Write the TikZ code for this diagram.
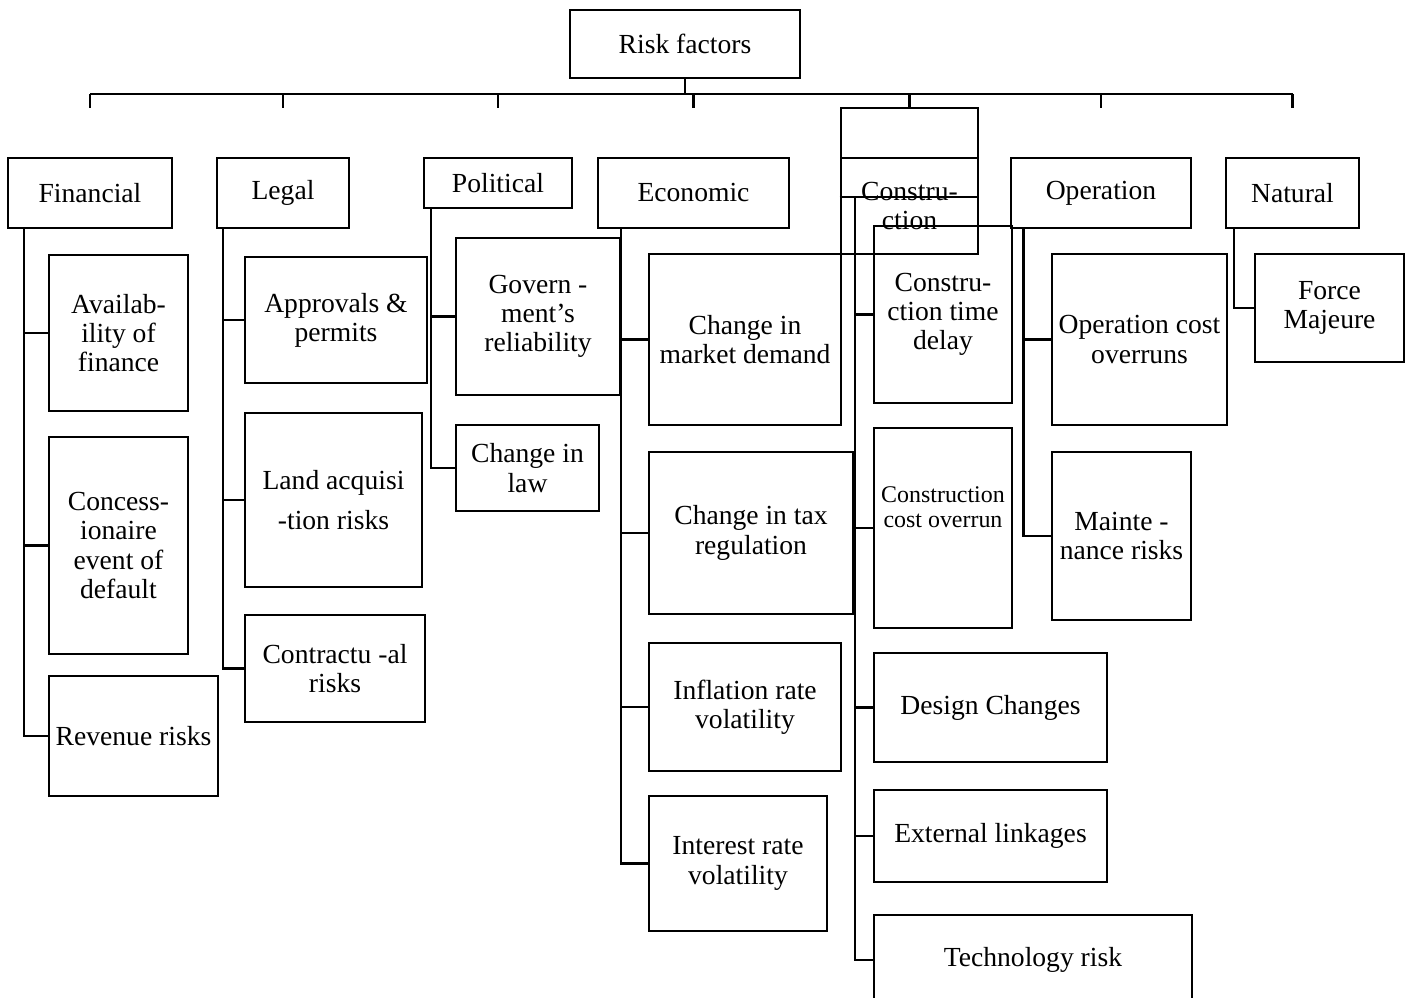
\documentclass[tikz,border=0pt]{standalone}
\usepackage{fontspec}
\setmainfont{Liberation Serif}

\begin{document}
\begin{tikzpicture}[x=0.01cm,y=-0.01cm,line width=0.7pt]
	\tikzstyle{box}=[draw,rectangle,inner sep=0pt,align=center,font=\fontsize{7.85}{8.3}\selectfont]
	\tikzset{boxsize/.style 2 args={minimum width=#1cm,minimum height=#2cm}}
	\useasboundingbox (0,0) rectangle (1411,998);

	% top level
	\node[box,boxsize={2.30}{0.68}] (root) at (685,44) {Risk factors};

	\node[box,boxsize={1.64}{0.70}] (fin) at (90,193)     {Financial};
	\node[box,boxsize={1.32}{0.70}] (leg) at (283,193)    {Legal};
	\node[box,boxsize={1.48}{0.50}] (pol) at (498,183)    {Political};
	\node[box,boxsize={1.91}{0.70}] (eco) at (693.5,193)  {Economic};
	\node[box,boxsize={1.37}{0.50}] (conhead) at (909.5,133) {};
	\node[box,boxsize={1.37}{0.96}] (con) at (909.5,206)  {Constru-\\ction};
	\node[box,boxsize={1.80}{0.70}] (ope) at (1101,193)   {Operation};
	\node[box,boxsize={1.33}{0.70}] (nat) at (1292.5,193) {Natural};

	% financial
	\node[box,boxsize={1.39}{1.56}] (avail) at (118.5,333)  {Availab-\\ility of\\finance};
	\node[box,boxsize={1.39}{2.17}] (conc)  at (118.5,545.5){Concess-\\ionaire\\event of\\default};
	\node[box,boxsize={1.69}{1.20}] (rev)   at (133.5,736)  {Revenue risks};

	% legal
	\node[box,boxsize={1.82}{1.26}] (appr)  at (336,320)    {Approvals \&\\permits};
	\node[box,boxsize={1.77}{1.74}] (land)  at (333.5,500)  {Land acquisi\\[3pt]-tion risks};
	\node[box,boxsize={1.80}{1.07}] (contr) at (335,668.5)  {Contractu -al\\risks};

	% political
	\node[box,boxsize={1.64}{1.57}] (gov)   at (538,316.5)  {Govern -\\ment's\\reliability};
	\node[box,boxsize={1.43}{0.86}] (law)   at (527.5,468)  {Change in\\law};

	% economic
	\node[box,boxsize={1.92}{1.71}] (mkt)   at (745,339.5)  {Change in\\market demand};
	\node[box,boxsize={2.04}{1.62}] (tax)   at (751,533)    {Change in tax\\regulation};
	\node[box,boxsize={1.92}{1.28}] (infl)  at (745,707)    {Inflation rate\\volatility};
	\node[box,boxsize={1.78}{1.35}] (intr)  at (738,863.5)  {Interest rate\\volatility};

	% construction
	\node[box,boxsize={1.38}{1.77}] (ctd)   at (943,314.5)  {Constru-\\ction time\\delay};
	\node[box,boxsize={1.38}{2.00},label={[align=center,font=\fontsize{6.8}{7.1}\selectfont,yshift=0.21cm]center:Construction\\cost overrun}] (cco) at (943,528) {};
	\node[box,boxsize={2.33}{1.09}] (des)   at (990.5,707.5){Design Changes};
	\node[box,boxsize={2.33}{0.92}] (ext)   at (990.5,836)  {External linkages};
	\node[box,boxsize={3.18}{0.90}] (tech)  at (1033,960)   {Technology risk};

	% operation
	\node[box,boxsize={1.75}{1.71}] (opc)   at (1139.5,339.5){Operation cost\\overruns};
	\node[box,boxsize={1.39}{1.68}] (mnt)   at (1121.5,536) {Mainte -\\nance risks};

	% natural
	\node[box,boxsize={1.49}{1.08}] (force) at (1329.5,308) {Force\\Majeure};

	% connectors
	\draw (root.south) -- ++(0,15) coordinate (bus);
	\draw (fin.north |- bus) -- (nat.north |- bus);
	\foreach \n in {fin,leg,pol,eco,ope,nat}
		\draw (\n.north |- bus) -- ++(0,14);
	\draw (con.north |- bus) -- (conhead.north);

	\coordinate (finbus) at ([xshift=0.17cm]fin.south west);
	\coordinate (legbus) at ([xshift=0.07cm]leg.south west);
	\coordinate (polbus) at ([xshift=0.08cm]pol.south west);
	\coordinate (ecobus) at ([xshift=0.24cm]eco.south west);
	\coordinate (conbus) at (855,197);
	\coordinate (opebus) at ([xshift=0.14cm]ope.south west);
	\coordinate (natbus) at ([xshift=0.09cm]nat.south west);

	\foreach \c in {avail,conc,rev}      \draw (finbus) |- (\c.west);
	\foreach \c in {appr,land,contr}     \draw (legbus) |- (\c.west);
	\foreach \c in {gov,law}             \draw (polbus) |- (\c.west);
	\foreach \c in {mkt,tax,infl,intr}   \draw (ecobus) |- (\c.west);
	\foreach \c in {ctd,cco,des,ext,tech} \draw (conbus) |- (\c.west);
	\foreach \c in {opc,mnt}             \draw (opebus) |- (\c.west);
	\draw (natbus) |- (force.west);
	\draw (con.west |- conbus) -- (con.east |- conbus);
\end{tikzpicture}
\end{document}
